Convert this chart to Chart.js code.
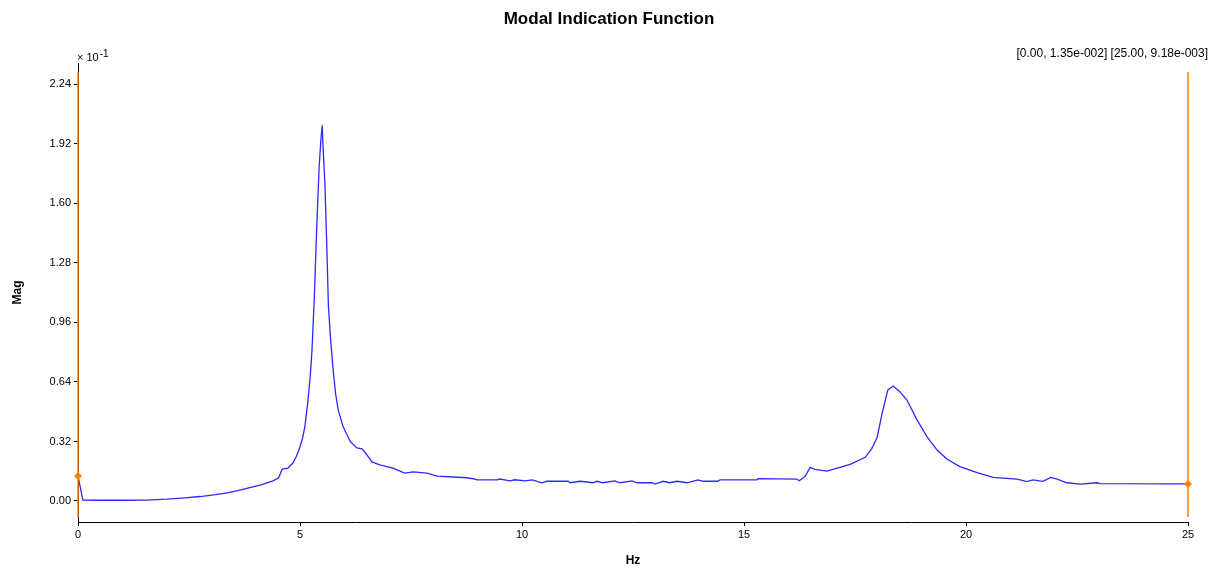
<!DOCTYPE html>
<html>
<head>
<meta charset="utf-8">
<title>Modal Indication Function</title>
<script src="https://cdn.jsdelivr.net/npm/chart.js@4.4.1/dist/chart.umd.min.js"></script>
<style>
  html, body { margin: 0; padding: 0; background: #fff; }
  #wrap { width: 1218px; height: 572px; position: relative; }
</style>
</head>
<body>
<div id="wrap"><canvas id="mifChart"></canvas></div>
<script>
// Frequency (Hz) and MIF magnitude (shown in units of 10^-1, as on the axis)
const freqHz = [
  0.00, 0.11, 0.50, 1.00, 1.55, 2.00, 2.40, 2.75, 3.10, 3.36, 3.60, 3.87, 4.10, 4.39, 4.52, 4.60,
  4.73, 4.84, 4.92, 5.00, 5.06, 5.11, 5.18, 5.23, 5.27, 5.32, 5.38, 5.43, 5.47,
  5.50, 5.52, 5.56, 5.60, 5.64, 5.68, 5.74, 5.80, 5.86, 5.97, 6.13, 6.28, 6.40, 6.50, 6.62,
  6.80, 7.09, 7.36, 7.55, 7.86, 8.09, 8.45, 8.76, 8.94, 8.99, 9.44, 9.50, 9.73, 9.84, 10.07, 10.23,
  10.45, 10.56, 11.04, 11.08, 11.31, 11.60, 11.69, 11.82, 12.09, 12.21, 12.48, 12.59, 12.93, 13.00,
  13.18, 13.33, 13.49, 13.72, 13.96, 14.08, 14.41, 14.46, 15.29, 15.32, 16.19, 16.24, 16.37, 16.49,
  16.60, 16.87, 17.16, 17.39, 17.73, 17.88, 18.00, 18.11, 18.24, 18.36, 18.51, 18.67, 18.90, 19.12,
  19.35, 19.57, 19.86, 20.25, 20.61, 21.15, 21.37, 21.51, 21.73, 21.91, 22.05, 22.27, 22.57, 22.95,
  23.02, 25.00
];
const magScaled = [
  0.135, 0.005, 0.004, 0.004, 0.005, 0.010, 0.017, 0.024, 0.034, 0.044, 0.056, 0.072, 0.085, 0.108, 0.125, 0.172,
  0.177, 0.204, 0.240, 0.290, 0.340, 0.400, 0.540, 0.670, 0.810, 1.080, 1.490, 1.790, 1.940,
  2.020, 1.900, 1.710, 1.400, 1.050, 0.900, 0.720, 0.580, 0.490, 0.400, 0.320, 0.285, 0.280, 0.250, 0.210,
  0.194, 0.177, 0.150, 0.156, 0.150, 0.134, 0.129, 0.125, 0.118, 0.113, 0.113, 0.118, 0.108, 0.114, 0.108, 0.113,
  0.098, 0.106, 0.106, 0.098, 0.106, 0.098, 0.106, 0.098, 0.108, 0.098, 0.108, 0.098, 0.098, 0.091,
  0.106, 0.098, 0.106, 0.098, 0.113, 0.106, 0.106, 0.114, 0.114, 0.120, 0.118, 0.109, 0.130, 0.181,
  0.170, 0.161, 0.181, 0.197, 0.235, 0.283, 0.343, 0.471, 0.597, 0.618, 0.588, 0.543, 0.435, 0.346,
  0.274, 0.226, 0.185, 0.152, 0.127, 0.118, 0.104, 0.113, 0.106, 0.127, 0.118, 0.098, 0.091, 0.098,
  0.093, 0.092
];

// Axis ticks
const xTicks = [0, 5, 10, 15, 20, 25];
const yTicks = [0.00, 0.32, 0.64, 0.96, 1.28, 1.60, 1.92, 2.24];

// Cursors (Hz, magnitude in 10^-1 units)
const cursorHz = [0, 25];
const cursorMag = [0.135, 0.0918];

const ORANGE = "#ff8000";
const FONT = "'Liberation Sans', Arial, sans-serif";

Chart.defaults.font.family = FONT;
Chart.defaults.color = "#000";

// "[0.00, 1.35e-002]" style
function fmtExp(v) {
  let [m, e] = v.toExponential(2).split("e");
  let sign = e[0] === "-" ? "-" : "+";
  let digits = e.replace(/[+-]/, "").padStart(3, "0");
  return m + "e" + sign + digits;
}

// Cursor lines, markers, exponent label and readout
const cursorPlugin = {
  id: "cursorPlugin",
  afterDatasetsDraw: (chart) => {
    const { ctx, chartArea, scales } = chart;
    ctx.save();

    cursorHz.forEach((hz, i) => {
      let px = scales.x.getPixelForValue(hz);
      let py = scales.y.getPixelForValue(cursorMag[i]);

      ctx.strokeStyle = ORANGE;
      ctx.lineWidth = 1.5;
      ctx.beginPath();
      ctx.moveTo(px, chartArea.top + 9);
      ctx.lineTo(px, chartArea.bottom - 5);
      ctx.stroke();

      // diamond marker
      ctx.fillStyle = ORANGE;
      ctx.beginPath();
      ctx.moveTo(px, py - 4);
      ctx.lineTo(px + 4, py);
      ctx.lineTo(px, py + 4);
      ctx.lineTo(px - 4, py);
      ctx.closePath();
      ctx.fill();
    });

    // axis multiplier
    ctx.fillStyle = "#000";
    ctx.textBaseline = "alphabetic";
    ctx.textAlign = "left";
    ctx.font = "11px " + FONT;
    let lx = chartArea.left - 1;
    ctx.fillText("\u00d7 10", lx, chartArea.top - 2);
    let w = ctx.measureText("\u00d7 10").width;
    ctx.font = "10px " + FONT;
    ctx.fillText("-1", lx + w + 1, chartArea.top - 6);

    // cursor readout
    ctx.font = "12px " + FONT;
    ctx.textAlign = "right";
    let txt = cursorHz.map((hz, i) => "[" + hz.toFixed(2) + ", " + fmtExp(cursorMag[i] / 10) + "]").join(" ");
    ctx.fillText(txt, chart.width - 10, chartArea.top - 6);

    ctx.restore();
  }
};

let ctx = document.getElementById("mifChart").getContext("2d");

let mifChart = new Chart(ctx, {
  type: "line",
  data: {
    datasets: [
      {
        label: "MIF",
        data: freqHz.map((hz, i) => ({ x: hz, y: magScaled[i] })),
        borderColor: "#2a2aff",
        borderWidth: 1.3,
        pointRadius: 0,
        tension: 0,
        fill: false
      }
    ]
  },
  options: {
    responsive: true,
    maintainAspectRatio: false,
    animation: false,
    layout: { padding: 0 },
    plugins: {
      legend: { display: false },
      tooltip: { enabled: false },
      title: {
        display: true,
        text: "Modal Indication Function",
        font: { size: 17, weight: "bold" },
        color: "#000",
        padding: { top: 9, bottom: 33.6 }
      }
    },
    scales: {
      x: {
        type: "linear",
        min: 0,
        max: 25,
        afterFit: (scale) => { scale.height = 50; },
        afterBuildTicks: (scale) => { scale.ticks = xTicks.map(v => ({ value: v })); },
        border: { display: true, color: "#000", width: 1 },
        grid: { display: true, drawOnChartArea: false, drawTicks: true, tickLength: 4, color: "#000" },
        ticks: { font: { size: 11 }, color: "#000", padding: 2, maxRotation: 0 },
        title: {
          display: true,
          text: "Hz",
          font: { size: 12, weight: "bold" },
          color: "#000",
          padding: { top: 0, bottom: 4 }
        }
      },
      y: {
        type: "linear",
        min: -0.113,
        max: 2.355,
        afterFit: (scale) => { scale.width = 78; },
        afterBuildTicks: (scale) => { scale.ticks = yTicks.map(v => ({ value: v })); },
        border: { display: true, color: "#000", width: 1 },
        grid: { display: true, drawOnChartArea: false, drawTicks: true, tickLength: 4, color: "#000" },
        ticks: {
          font: { size: 11 },
          color: "#000",
          padding: 3,
          callback: (v) => v.toFixed(2)
        },
        title: {
          display: true,
          text: "Mag",
          font: { size: 12, weight: "bold" },
          color: "#000",
          padding: { top: 10, bottom: 0 }
        }
      },
      // empty right-hand margin so the title centres on the full width
      yRight: {
        type: "linear",
        position: "right",
        display: true,
        afterFit: (scale) => { scale.width = 30; },
        border: { display: false },
        grid: { display: false },
        ticks: { display: false }
      }
    }
  },
  plugins: [cursorPlugin]
});
</script>
</body>
</html>
